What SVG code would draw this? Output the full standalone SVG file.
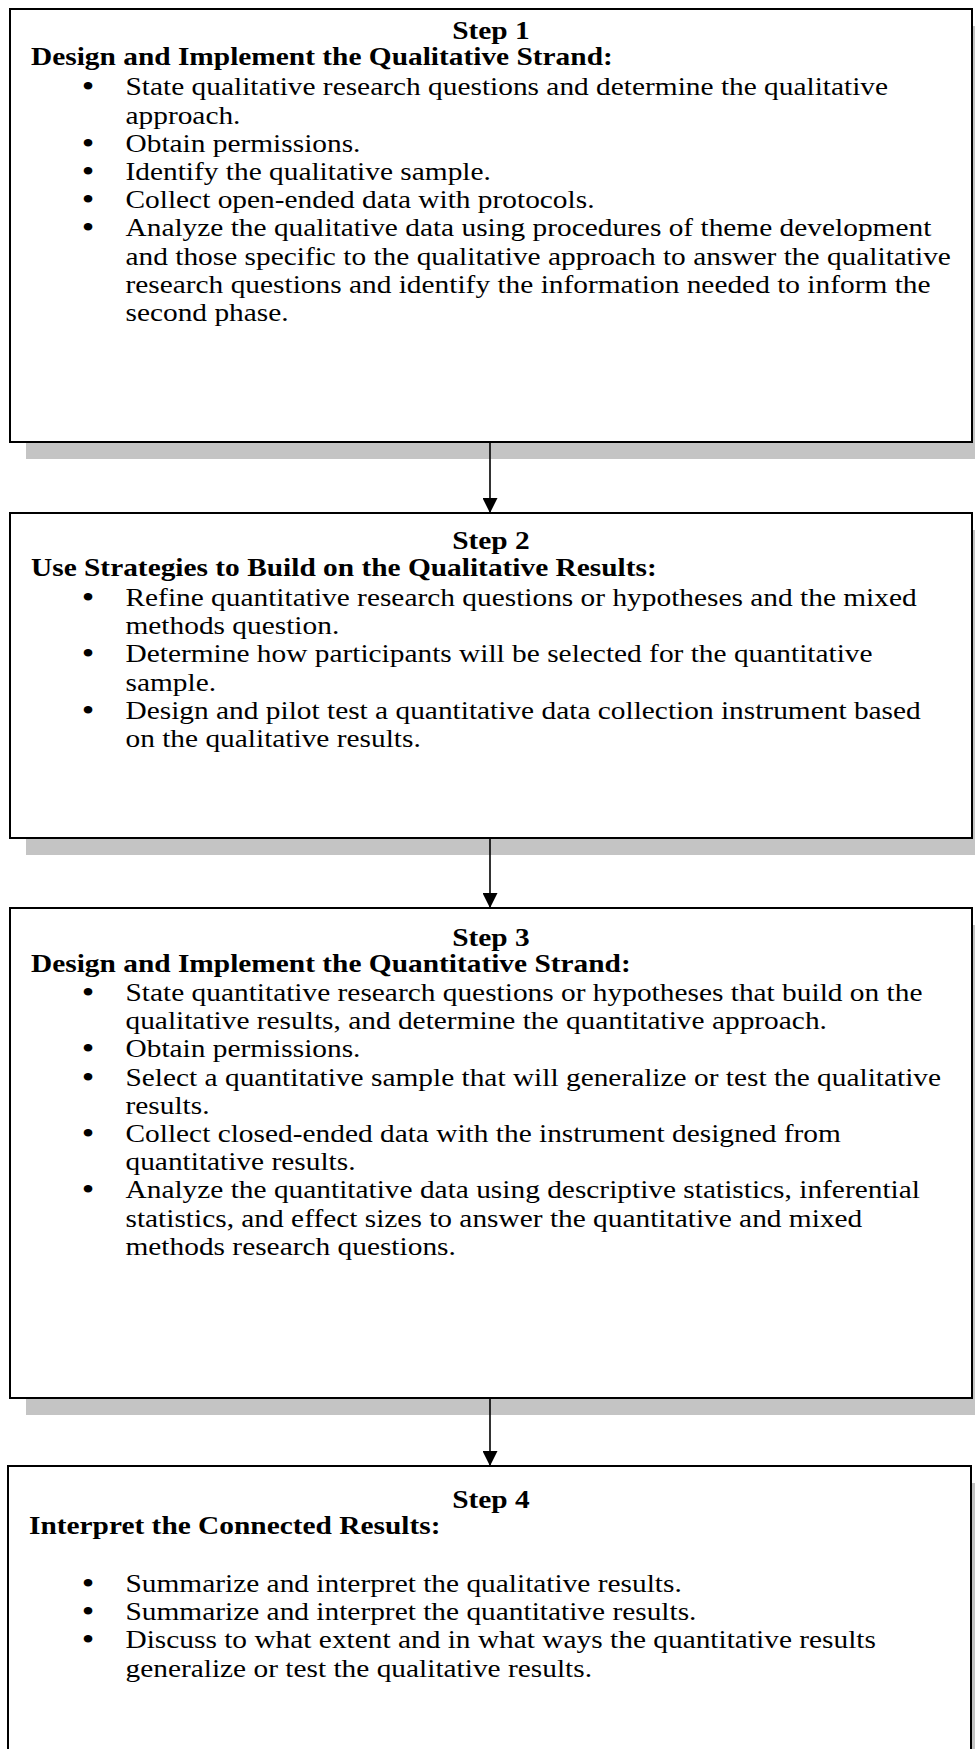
<svg xmlns="http://www.w3.org/2000/svg" width="975" height="1749" viewBox="0 0 975 1749">
  <style>
    .box { fill: #ffffff; stroke: #000000; stroke-width: 2; }
    .shadow { fill: #c4c4c4; }
    .t { font-family: "Liberation Serif", "Times New Roman", serif; font-size: 26px; fill: #000000; }
    .b { font-weight: bold; }
    .c { text-anchor: middle; }
    .dot { font-size: 28px; font-weight: bold; }
    .link { stroke: #000000; stroke-width: 1.6; fill: none; marker-end: url(#arrow); }
  </style>
  <defs>
    <marker id="arrow" markerWidth="16" markerHeight="15" refX="15" refY="7.5" orient="auto" markerUnits="userSpaceOnUse">
      <path d="M0,0 L15,7.5 L0,15 Z" fill="#000000"/>
    </marker>
  </defs>
  <rect width="975" height="1749" fill="#ffffff"/>

  <!-- drop shadows behind the step boxes -->
  <g id="shadows">
    <rect class="shadow" x="26" y="26" width="962" height="433"/>
    <rect class="shadow" x="26" y="530" width="962" height="325"/>
    <rect class="shadow" x="26" y="925" width="962" height="490"/>
    <rect class="shadow" x="24" y="1483" width="962" height="300"/>
  </g>

  <!-- connectors between steps -->
  <g id="connectors">
    <line class="link" x1="490" y1="442" x2="490" y2="513"/>
    <line class="link" x1="490" y1="838" x2="490" y2="908"/>
    <line class="link" x1="490" y1="1398" x2="490" y2="1466"/>
  </g>

  <!-- bullet lines: the bullet and its first line share one text element -->
  <g id="step1">
    <rect class="box" x="10" y="9" width="962" height="433"/>
    <g transform="scale(1.13 1)">
      <text class="t b c" x="434.5" y="39.5">Step 1</text>
      <text class="t b" x="27.43" y="65.5">Design and Implement the Qualitative Strand:</text>
      <text class="t" y="95.5"><tspan class="dot" x="73">•</tspan><tspan x="111.06">State qualitative research questions and determine the qualitative</tspan></text>
      <text class="t" x="111.06" y="123.7">approach.</text>
      <text class="t" y="151.9"><tspan class="dot" x="73">•</tspan><tspan x="111.06">Obtain permissions.</tspan></text>
      <text class="t" y="180.1"><tspan class="dot" x="73">•</tspan><tspan x="111.06">Identify the qualitative sample.</tspan></text>
      <text class="t" y="208.3"><tspan class="dot" x="73">•</tspan><tspan x="111.06">Collect open-ended data with protocols.</tspan></text>
      <text class="t" y="236.5"><tspan class="dot" x="73">•</tspan><tspan x="111.06">Analyze the qualitative data using procedures of theme development</tspan></text>
      <text class="t" x="111.06" y="264.7">and those specific to the qualitative approach to answer the qualitative</text>
      <text class="t" x="111.06" y="292.9">research questions and identify the information needed to inform the</text>
      <text class="t" x="111.06" y="321.1">second phase.</text>
    </g>
  </g>

  <g id="step2">
    <rect class="box" x="10" y="513" width="962" height="325"/>
    <g transform="scale(1.13 1)">
      <text class="t b c" x="434.5" y="549.5">Step 2</text>
      <text class="t b" x="27.43" y="576">Use Strategies to Build on the Qualitative Results:</text>
      <text class="t" y="606"><tspan class="dot" x="73">•</tspan><tspan x="111.06">Refine quantitative research questions or hypotheses and the mixed</tspan></text>
      <text class="t" x="111.06" y="634.2">methods question.</text>
      <text class="t" y="662.4"><tspan class="dot" x="73">•</tspan><tspan x="111.06">Determine how participants will be selected for the quantitative</tspan></text>
      <text class="t" x="111.06" y="690.6">sample.</text>
      <text class="t" y="718.8"><tspan class="dot" x="73">•</tspan><tspan x="111.06">Design and pilot test a quantitative data collection instrument based</tspan></text>
      <text class="t" x="111.06" y="747">on the qualitative results.</text>
    </g>
  </g>

  <g id="step3">
    <rect class="box" x="10" y="908" width="962" height="490"/>
    <g transform="scale(1.13 1)">
      <text class="t b c" x="434.5" y="946">Step 3</text>
      <text class="t b" x="27.43" y="972">Design and Implement the Quantitative Strand:</text>
      <text class="t" y="1001"><tspan class="dot" x="73">•</tspan><tspan x="111.06">State quantitative research questions or hypotheses that build on the</tspan></text>
      <text class="t" x="111.06" y="1029.2">qualitative results, and determine the quantitative approach.</text>
      <text class="t" y="1057.4"><tspan class="dot" x="73">•</tspan><tspan x="111.06">Obtain permissions.</tspan></text>
      <text class="t" y="1085.6"><tspan class="dot" x="73">•</tspan><tspan x="111.06">Select a quantitative sample that will generalize or test the qualitative</tspan></text>
      <text class="t" x="111.06" y="1113.8">results.</text>
      <text class="t" y="1142"><tspan class="dot" x="73">•</tspan><tspan x="111.06">Collect closed-ended data with the instrument designed from</tspan></text>
      <text class="t" x="111.06" y="1170.2">quantitative results.</text>
      <text class="t" y="1198.4"><tspan class="dot" x="73">•</tspan><tspan x="111.06">Analyze the quantitative data using descriptive statistics, inferential</tspan></text>
      <text class="t" x="111.06" y="1226.6">statistics, and effect sizes to answer the quantitative and mixed</text>
      <text class="t" x="111.06" y="1254.8">methods research questions.</text>
    </g>
  </g>

  <g id="step4">
    <rect class="box" x="8" y="1466" width="963" height="300"/>
    <g transform="scale(1.13 1)">
      <text class="t b c" x="434.5" y="1508">Step 4</text>
      <text class="t b" x="25.66" y="1534">Interpret the Connected Results:</text>
      <text class="t" y="1592"><tspan class="dot" x="73">•</tspan><tspan x="111.06">Summarize and interpret the qualitative results.</tspan></text>
      <text class="t" y="1620.2"><tspan class="dot" x="73">•</tspan><tspan x="111.06">Summarize and interpret the quantitative results.</tspan></text>
      <text class="t" y="1648.4"><tspan class="dot" x="73">•</tspan><tspan x="111.06">Discuss to what extent and in what ways the quantitative results</tspan></text>
      <text class="t" x="111.06" y="1676.6">generalize or test the qualitative results.</text>
    </g>
  </g>
</svg>
